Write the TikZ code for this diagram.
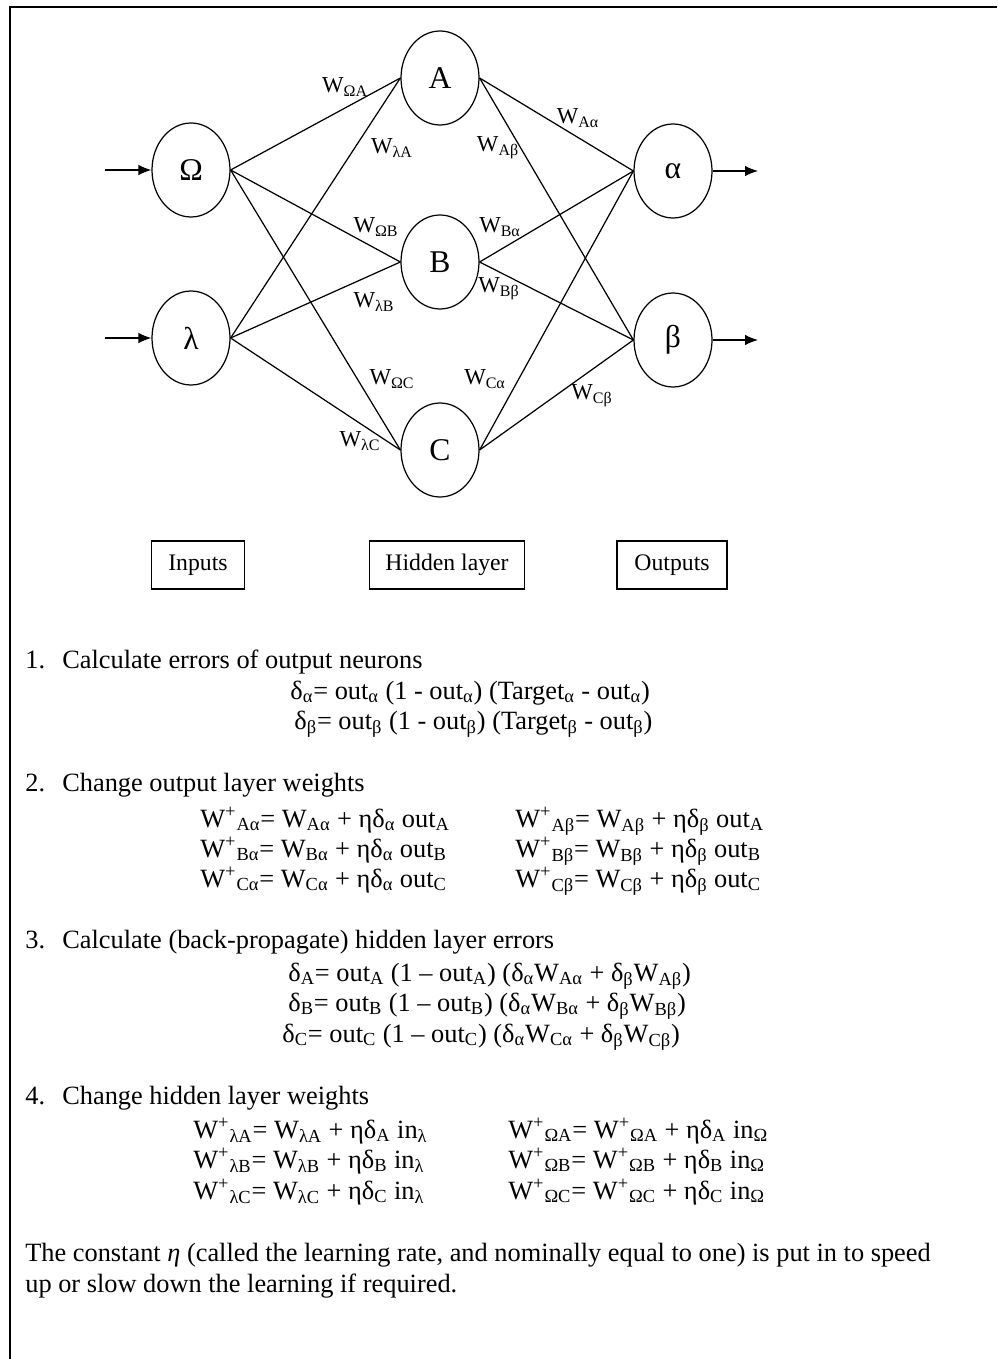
\documentclass[tikz,border=0pt]{standalone}
\usepackage{fontspec}
\setmainfont{Liberation Serif}
\usetikzlibrary{shapes.geometric,arrows.meta}

% weights: plain and updated
\newcommand{\wsub}[1]{W\textsubscript{#1}}
\newcommand{\wnew}[1]{W\textsuperscript{+}\textsubscript{#1}}
\newcommand{\lo}[1]{\textsubscript{#1}}

\begin{document}
\begin{tikzpicture}[x=0.2mm,y=-0.2mm,
    neuron/.style={draw,ellipse,line width=0.7pt,minimum width=15.6mm,minimum height=18.8mm,inner sep=0pt,font=\fontsize{18}{18}\selectfont},
    wire/.style={line width=0.7pt},
    wlabel/.style={inner sep=0pt,font=\fontsize{13}{13}\selectfont},
    layerbox/.style={draw,line width=0.7pt,minimum height=9.6mm,font=\fontsize{13.5}{15}\selectfont},
    txt/.style={anchor=base west,inner sep=0pt,font=\fontsize{15}{17}\selectfont}]
    \useasboundingbox (0,0) rectangle (997,1359);

    % frame (top and left edge)
    \draw[line width=1.2pt] (10,1359) -- (10,7) -- (997,7);

    % neurons
    \node[neuron] (Om) at (191,170) {Ω};
    \node[neuron] (lam) at (191,338) {λ};
    \node[neuron] (A) at (440,78) {A};
    \node[neuron] (B) at (440,262) {B};
    \node[neuron] (C) at (440,450) {C};
    \node[neuron] (al) at (673,171) {α};
    \node[neuron] (be) at (673,340) {β};

    % connections
    \foreach \i in {Om,lam}
        \foreach \h in {A,B,C}
            \draw[wire] (\i.east) -- (\h.west);
    \foreach \h in {A,B,C}
        \foreach \o in {al,be}
            \draw[wire] (\h.east) -- (\o.west);

    % in and out arrows
    \coordinate (inOm) at (105,170);
    \coordinate (inlam) at (105,338);
    \coordinate (outal) at (758,171);
    \coordinate (outbe) at (758,340);
    \draw[wire,-{Latex[length=2.6mm,width=2.1mm]}] (inOm) -- (Om);
    \draw[wire,-{Latex[length=2.6mm,width=2.1mm]}] (inlam) -- (lam);
    \draw[wire,-{Latex[length=2.6mm,width=2.1mm]}] (al) -- (outal);
    \draw[wire,-{Latex[length=2.6mm,width=2.1mm]}] (be) -- (outbe);

    % weight labels
    \node[wlabel] (wOmA) at (345,87) {\wsub{ΩA}};
    \node[wlabel] (wlamA) at (392,148) {\wsub{λA}};
    \node[wlabel] (wAbe) at (498,148) {\wsub{Aβ}};
    \node[wlabel] (wAal) at (578,118) {\wsub{Aα}};
    \node[wlabel] (wOmB) at (376,227) {\wsub{ΩB}};
    \node[wlabel] (wBal) at (500,227) {\wsub{Bα}};
    \node[wlabel] (wlamB) at (374,302) {\wsub{λB}};
    \node[wlabel] (wBbe) at (499,289) {\wsub{Bβ}};
    \node[wlabel] (wOmC) at (392,379) {\wsub{ΩC}};
    \node[wlabel] (wCal) at (485,379) {\wsub{Cα}};
    \node[wlabel] (wlamC) at (360,441) {\wsub{λC}};
    \node[wlabel] (wCbe) at (592,396) {\wsub{Cβ}};

    % layer names
    \node[layerbox,minimum width=18.6mm] (inputs) at (198,565) {Inputs};
    \node[layerbox,minimum width=31mm] (hidden) at (447,565) {Hidden layer};
    \node[layerbox,minimum width=22mm] (outputs) at (672,565) {Outputs};

    % steps
    \foreach \n/\y/\t in {1/668/Calculate errors of output neurons,
                          2/791/Change output layer weights,
                          3/948/Calculate (back-propagate) hidden layer errors,
                          4/1104/Change hidden layer weights} {
        \node[txt] (num\n) at (25,\y) {\n.};
        \node[txt] (head\n) at (62,\y) {\t};
    }

    % step 1
    \node[txt] (dal) at (290,699) {δ\lo{α}= out\lo{α} (1 - out\lo{α}) (Target\lo{α} - out\lo{α})};
    \node[txt] (dbe) at (294,729) {δ\lo{β}= out\lo{β} (1 - out\lo{β}) (Target\lo{β} - out\lo{β})};

    % step 2
    \node[txt] (uAal) at (200,827) {\wnew{Aα}= \wsub{Aα} + ηδ\lo{α} out\lo{A}};
    \node[txt] (uBal) at (200,857) {\wnew{Bα}= \wsub{Bα} + ηδ\lo{α} out\lo{B}};
    \node[txt] (uCal) at (200,887) {\wnew{Cα}= \wsub{Cα} + ηδ\lo{α} out\lo{C}};
    \node[txt] (uAbe) at (515,827) {\wnew{Aβ}= \wsub{Aβ} + ηδ\lo{β} out\lo{A}};
    \node[txt] (uBbe) at (515,857) {\wnew{Bβ}= \wsub{Bβ} + ηδ\lo{β} out\lo{B}};
    \node[txt] (uCbe) at (515,887) {\wnew{Cβ}= \wsub{Cβ} + ηδ\lo{β} out\lo{C}};

    % step 3
    \node[txt] (dA) at (288,981) {δ\lo{A}= out\lo{A} (1 – out\lo{A}) (δ\lo{α}\wsub{Aα} + δ\lo{β}\wsub{Aβ})};
    \node[txt] (dB) at (288,1011) {δ\lo{B}= out\lo{B} (1 – out\lo{B}) (δ\lo{α}\wsub{Bα} + δ\lo{β}\wsub{Bβ})};
    \node[txt] (dC) at (282,1042) {δ\lo{C}= out\lo{C} (1 – out\lo{C}) (δ\lo{α}\wsub{Cα} + δ\lo{β}\wsub{Cβ})};

    % step 4
    \node[txt] (ulamA) at (193,1138) {\wnew{λA}= \wsub{λA} + ηδ\lo{A} in\lo{λ}};
    \node[txt] (ulamB) at (193,1168) {\wnew{λB}= \wsub{λB} + ηδ\lo{B} in\lo{λ}};
    \node[txt] (ulamC) at (193,1199) {\wnew{λC}= \wsub{λC} + ηδ\lo{C} in\lo{λ}};
    \node[txt] (uOmA) at (508,1138) {\wnew{ΩA}= \wnew{ΩA} + ηδ\lo{A} in\lo{Ω}};
    \node[txt] (uOmB) at (508,1168) {\wnew{ΩB}= \wnew{ΩB} + ηδ\lo{B} in\lo{Ω}};
    \node[txt] (uOmC) at (508,1199) {\wnew{ΩC}= \wnew{ΩC} + ηδ\lo{C} in\lo{Ω}};

    % closing note
    \node[txt] (note1) at (25,1261) {The constant \textit{η} (called the learning rate, and nominally equal to one) is put in to speed};
    \node[txt] (note2) at (25,1292) {up or slow down the learning if required.};
\end{tikzpicture}
\end{document}
